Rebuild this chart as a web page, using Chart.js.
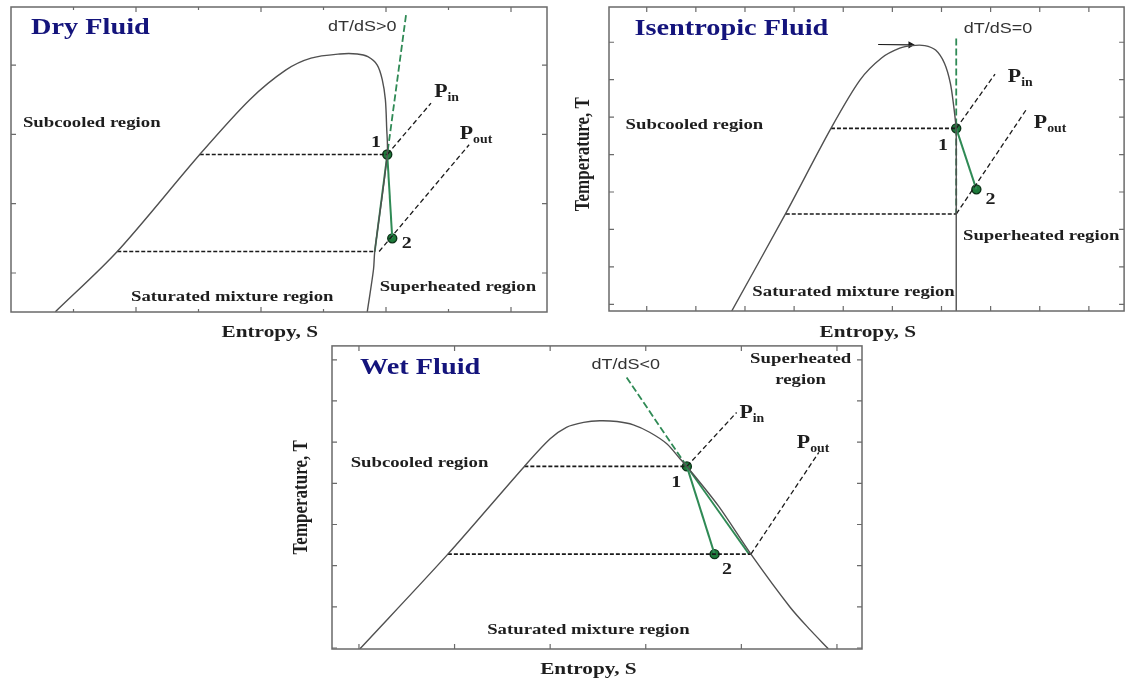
<!DOCTYPE html>
<html>
<head>
<meta charset="utf-8">
<script src="https://cdn.jsdelivr.net/npm/chart.js@4.4.0/dist/chart.umd.min.js"></script>
<style>
  html, body { margin: 0; padding: 0; background: #fff; width: 1130px; height: 678px; overflow: hidden; }
  canvas { position: absolute; }
</style>
</head>
<body>
<canvas id="dry" width="560" height="345" style="left:0px;top:0px"></canvas>
<canvas id="iso" width="565" height="345" style="left:565px;top:0px"></canvas>
<canvas id="wet" width="600" height="338" style="left:280px;top:340px"></canvas>
<script>
// ---- data (arbitrary units, 1 unit = 1 tick step) ----

// Dry fluid
const dryDome = [[0.71,-0.56],[1.70,0.31],[3.02,1.71],[3.82,2.50],[4.40,2.93],[4.80,3.10],[5.26,3.16],[5.54,3.16],[5.71,3.12],[5.86,3.00],[5.94,2.79],[5.99,2.50],[6.01,2.11],[6.02,1.71],[5.82,0.31],[5.80,0.05],[5.70,-0.56]];
const dryIsobarHigh = [[3.02,1.71],[6.02,1.71]];
const dryIsobarLow = [[1.70,0.31],[5.82,0.31]];
const dryPin = [[6.02,1.71],[6.72,2.45]];
const dryPout = [[5.89,0.31],[7.33,1.85]];
const dryTangentUp = [[6.32,3.72],[6.02,1.71]];
const dryTangentDown = [[6.02,1.71],[5.82,0.31]];
const dryStates = [[6.02,1.71],[6.10,0.50]];
const dryXTicks = [1,2,3,4,5,6,7,8];
const dryYTicks = [0,1,2,3];

// Isentropic fluid
const isoDome = [[1.73,-0.18],[2.83,2.43],[3.75,4.70],[4.34,5.99],[4.78,6.58],[5.15,6.84],[5.40,6.91],[5.66,6.91],[5.88,6.79],[6.06,6.44],[6.18,5.91],[6.25,5.28],[6.30,4.70]];
const isoVertical = [[6.30,4.70],[6.30,-0.18]];
const isoArrow = [[4.71,6.94],[5.37,6.93]];
const isoIsobarHigh = [[3.75,4.70],[6.30,4.70]];
const isoIsobarLow = [[2.83,2.41],[6.30,2.41]];
const isoPin = [[6.30,4.70],[7.09,6.15]];
const isoPout = [[6.30,2.41],[7.72,5.19]];
const isoTangent = [[6.30,7.10],[6.30,2.43]];
const isoStates = [[6.30,4.70],[6.71,3.07]];
const isoXTicks = [0,1,2,3,4,5,6,7,8,9];
const isoYTicks = [0,1,2,3,4,5,6,7];

// Wet fluid
const wetDome = [[0.01,-0.02],[0.93,2.28],[1.73,4.41],[2.00,5.08],[2.17,5.36],[2.35,5.48],[2.52,5.52],[2.70,5.50],[2.87,5.42],[3.04,5.24],[3.22,4.96],[3.36,4.59],[3.43,4.41],[3.76,3.45],[4.10,2.28],[4.51,0.99],[4.72,0.44],[4.91,-0.02]];
const wetIsobarHigh = [[1.73,4.41],[3.43,4.41]];
const wetIsobarLow = [[0.93,2.28],[4.10,2.28]];
const wetPin = [[3.43,4.41],[3.95,5.72]];
const wetPout = [[4.10,2.28],[4.81,4.75]];
const wetTangentUp = [[2.80,6.57],[3.43,4.41]];
const wetTangentDown = [[3.43,4.41],[4.08,2.28]];
const wetStates = [[3.43,4.41],[3.72,2.28]];
const wetXTicks = [0,1,2,3,4,5];
const wetYTicks = [0,1,2,3,4,5,6,7];

// ---- styles ----
const GREEN = '#2f8a55';
const DOME = '#505050';
const SERIF = "'Liberation Serif', 'Times New Roman', serif";
const SANS = "'Liberation Sans', Arial, sans-serif";
const SX = 1.25; // the picture is stretched sideways

const toXY = a => a.map(p => ({x: p[0], y: p[1]}));

function lineSet(pts, color, width, dash, tension) {
  return {
    data: toXY(pts), showLine: true, borderColor: color, borderWidth: width,
    borderDash: dash || [], tension: tension || 0, pointRadius: 0, fill: false
  };
}
function stateSet(pts) {
  return {
    data: toXY(pts), showLine: false, pointRadius: 4.5, pointHoverRadius: 4.5,
    pointBackgroundColor: '#1d7a3a', pointBorderColor: '#0b3318', pointBorderWidth: 1.4
  };
}

function stretchText(ctx, text, x, y, font, color, align, sx) {
  ctx.save();
  ctx.font = font;
  ctx.fillStyle = color;
  ctx.textBaseline = 'alphabetic';
  ctx.textAlign = 'left';
  const w = ctx.measureText(text).width * sx;
  const x0 = align === 'center' ? x - w / 2 : (align === 'right' ? x - w : x);
  ctx.translate(x0, y);
  ctx.scale(sx, 1);
  ctx.fillText(text, 0, 0);
  ctx.restore();
  return w;
}

const styles = {
  title:  {font: 'bold 24px ' + SERIF, color: '#14147c', sx: 1.18},
  region: {font: 'bold 15px ' + SERIF, color: '#1e1e1e', sx: SX},
  slope:  {font: '15px ' + SANS, color: '#333', sx: 1.2},
  state:  {font: 'bold 16px ' + SERIF, color: '#1e1e1e', sx: SX},
  p:      {font: 'bold 19px ' + SERIF, color: '#1e1e1e', sx: 1.15},
  sub:    {font: 'bold 12px ' + SERIF, color: '#1e1e1e', sx: 1.15},
  axis:   {font: 'bold 17px ' + SERIF, color: '#1e1e1e', sx: SX}
};

function deco(cfg) {
  return {
    id: 'deco',
    afterDraw(chart) {
      const ctx = chart.ctx, a = chart.chartArea;
      const xs = chart.scales.x, ys = chart.scales.y;
      ctx.save();
      // frame
      ctx.strokeStyle = '#6a6a6a';
      ctx.lineWidth = 1.5;
      ctx.strokeRect(a.left, a.top, a.right - a.left, a.bottom - a.top);
      // inward ticks on all four sides
      ctx.lineWidth = 1.2;
      ctx.beginPath();
      cfg.xTicks.forEach(v => {
        const px = xs.getPixelForValue(v);
        const len = (cfg.majorEvery && v % cfg.majorEvery !== 0) ? 3 : 5;
        ctx.moveTo(px, a.bottom); ctx.lineTo(px, a.bottom - len);
        ctx.moveTo(px, a.top); ctx.lineTo(px, a.top + len);
      });
      cfg.yTicks.forEach(v => {
        const py = ys.getPixelForValue(v);
        ctx.moveTo(a.left, py); ctx.lineTo(a.left + 5, py);
        ctx.moveTo(a.right, py); ctx.lineTo(a.right - 5, py);
      });
      ctx.stroke();
      ctx.restore();

      // annotations
      cfg.labels.forEach(l => {
        const px = xs.getPixelForValue(l.x), py = ys.getPixelForValue(l.y);
        if (l.sub) {
          const s = styles.p, u = styles.sub;
          const w = stretchText(ctx, l.text, px, py, s.font, s.color, 'left', s.sx);
          stretchText(ctx, l.sub, px + w, py + 4, u.font, u.color, 'left', u.sx);
        } else {
          const s = styles[l.kind];
          stretchText(ctx, l.text, px, py, s.font, s.color, l.align || 'left', s.sx);
        }
      });

      // axis titles
      const ax = styles.axis;
      if (cfg.xTitle) {
        stretchText(ctx, cfg.xTitle.text, xs.getPixelForValue(cfg.xTitle.at), a.bottom + cfg.xTitle.gap,
          ax.font, ax.color, 'center', ax.sx);
      }
      if (cfg.yTitle) {
        ctx.save();
        ctx.font = ax.font;
        ctx.fillStyle = ax.color;
        ctx.textAlign = 'center';
        ctx.textBaseline = 'middle';
        ctx.translate(a.left - cfg.yTitle.gap, ys.getPixelForValue(cfg.yTitle.at));
        ctx.scale(ax.sx, 1);
        ctx.rotate(-Math.PI / 2);
        ctx.fillText(cfg.yTitle.text, 0, 0);
        ctx.restore();
      }
    }
  };
}

function makeChart(id, datasets, range, padding, cfg) {
  return new Chart(document.getElementById(id), {
    type: 'scatter',
    data: {datasets: datasets},
    options: {
      responsive: false,
      animation: false,
      events: [],
      layout: {padding: padding},
      plugins: {legend: {display: false}, tooltip: {enabled: false}},
      scales: {
        x: {type: 'linear', display: false, min: range[0], max: range[1]},
        y: {type: 'linear', display: false, min: range[2], max: range[3]}
      }
    },
    plugins: [deco(cfg)]
  });
}

// ---- Dry Fluid ----
makeChart('dry', [
  lineSet(dryDome, DOME, 1.4, null, 0.3),
  lineSet(dryIsobarHigh, '#1a1a1a', 1.6, [4, 2]),
  lineSet(dryIsobarLow, '#1a1a1a', 1.6, [4, 2]),
  lineSet(dryPin, '#1a1a1a', 1.3, [5, 3]),
  lineSet(dryPout, '#1a1a1a', 1.3, [5, 3]),
  lineSet(dryTangentUp, GREEN, 1.8, [7, 3]),
  lineSet(dryTangentDown, GREEN, 1.8),
  lineSet(dryStates, GREEN, 2),
  stateSet(dryStates)
], [0, 8.576, -0.5625, 3.837], {left: 11, top: 7, right: 13, bottom: 33}, {
  xTicks: dryXTicks, yTicks: dryYTicks, majorEvery: 2,
  xTitle: {text: 'Entropy, S', at: 4.14, gap: 25},
  labels: [
    {text: 'Dry Fluid', x: 0.32, y: 3.445, kind: 'title'},
    {text: 'Subcooled region', x: 0.19, y: 2.113, kind: 'region'},
    {text: 'Saturated mixture region', x: 3.54, y: -0.397, kind: 'region', align: 'center'},
    {text: 'Superheated region', x: 7.15, y: -0.257, kind: 'region', align: 'center'},
    {text: 'dT/dS>0', x: 5.62, y: 3.493, kind: 'slope', align: 'center'},
    {text: 'P', sub: 'in', x: 6.77, y: 2.545},
    {text: 'P', sub: 'out', x: 7.18, y: 1.931},
    {text: '1', x: 5.84, y: 1.816, kind: 'state', align: 'center'},
    {text: '2', x: 6.33, y: 0.359, kind: 'state', align: 'center'}
  ]
});

// ---- Isentropic Fluid ----
const arrowSet = lineSet(isoArrow, '#1a1a1a', 1.2);
arrowSet.pointRadius = [0, 3];
arrowSet.pointStyle = 'triangle';
arrowSet.rotation = 90;
arrowSet.pointBackgroundColor = '#1a1a1a';
arrowSet.pointBorderColor = '#1a1a1a';

makeChart('iso', [
  lineSet(isoDome, DOME, 1.4, null, 0.3),
  lineSet(isoVertical, DOME, 1.4),
  arrowSet,
  lineSet(isoIsobarHigh, '#1a1a1a', 1.6, [4, 2]),
  lineSet(isoIsobarLow, '#1a1a1a', 1.6, [4, 2]),
  lineSet(isoPin, '#1a1a1a', 1.3, [5, 3]),
  lineSet(isoPout, '#1a1a1a', 1.3, [5, 3]),
  lineSet(isoTangent, GREEN, 1.8, [7, 3]),
  lineSet(isoStates, GREEN, 2),
  stateSet(isoStates)
], [-0.768, 9.717, -0.179, 7.941], {left: 44, top: 7, right: 2, bottom: 34}, {
  xTicks: isoXTicks, yTicks: isoYTicks,
  xTitle: {text: 'Entropy, S', at: 4.50, gap: 26},
  yTitle: {text: 'Temperature, T', at: 4.01, gap: 25},
  labels: [
    {text: 'Isentropic Fluid', x: -0.25, y: 7.19, kind: 'title'},
    {text: 'Subcooled region', x: -0.43, y: 4.67, kind: 'region'},
    {text: 'Saturated mixture region', x: 4.21, y: 0.21, kind: 'region', align: 'center'},
    {text: 'Superheated region', x: 8.03, y: 1.73, kind: 'region', align: 'center'},
    {text: 'dT/dS=0', x: 7.15, y: 7.24, kind: 'slope', align: 'center'},
    {text: 'P', sub: 'in', x: 7.35, y: 5.94},
    {text: 'P', sub: 'out', x: 7.88, y: 4.71},
    {text: '1', x: 6.03, y: 4.12, kind: 'state', align: 'center'},
    {text: '2', x: 7.0, y: 2.67, kind: 'state', align: 'center'}
  ]
});

// ---- Wet Fluid ----
makeChart('wet', [
  lineSet(wetDome, DOME, 1.4, null, 0.3),
  lineSet(wetIsobarHigh, '#1a1a1a', 1.6, [4, 2]),
  lineSet(wetIsobarLow, '#1a1a1a', 1.6, [4, 2]),
  lineSet(wetPin, '#1a1a1a', 1.3, [5, 3]),
  lineSet(wetPout, '#1a1a1a', 1.3, [5, 3]),
  lineSet(wetTangentUp, GREEN, 1.8, [7, 3]),
  lineSet(wetTangentDown, GREEN, 1.8),
  lineSet(wetStates, GREEN, 2),
  stateSet(wetStates)
], [-0.282, 5.262, -0.024, 7.337], {left: 52, top: 5, right: 18, bottom: 29}, {
  xTicks: wetXTicks, yTicks: wetYTicks,
  xTitle: {text: 'Entropy, S', at: 2.40, gap: 25},
  yTitle: {text: 'Temperature, T', at: 3.66, gap: 30},
  labels: [
    {text: 'Wet Fluid', x: 0.01, y: 6.65, kind: 'title'},
    {text: 'Superheated', x: 4.62, y: 6.93, kind: 'region', align: 'center'},
    {text: 'region', x: 4.62, y: 6.42, kind: 'region', align: 'center'},
    {text: 'Subcooled region', x: -0.087, y: 4.39, kind: 'region'},
    {text: 'Saturated mixture region', x: 2.40, y: 0.34, kind: 'region', align: 'center'},
    {text: 'dT/dS<0', x: 2.79, y: 6.77, kind: 'slope', align: 'center'},
    {text: 'P', sub: 'in', x: 3.98, y: 5.59},
    {text: 'P', sub: 'out', x: 4.58, y: 4.86},
    {text: '1', x: 3.32, y: 3.92, kind: 'state', align: 'center'},
    {text: '2', x: 3.85, y: 1.79, kind: 'state', align: 'center'}
  ]
});
</script>
</body>
</html>
